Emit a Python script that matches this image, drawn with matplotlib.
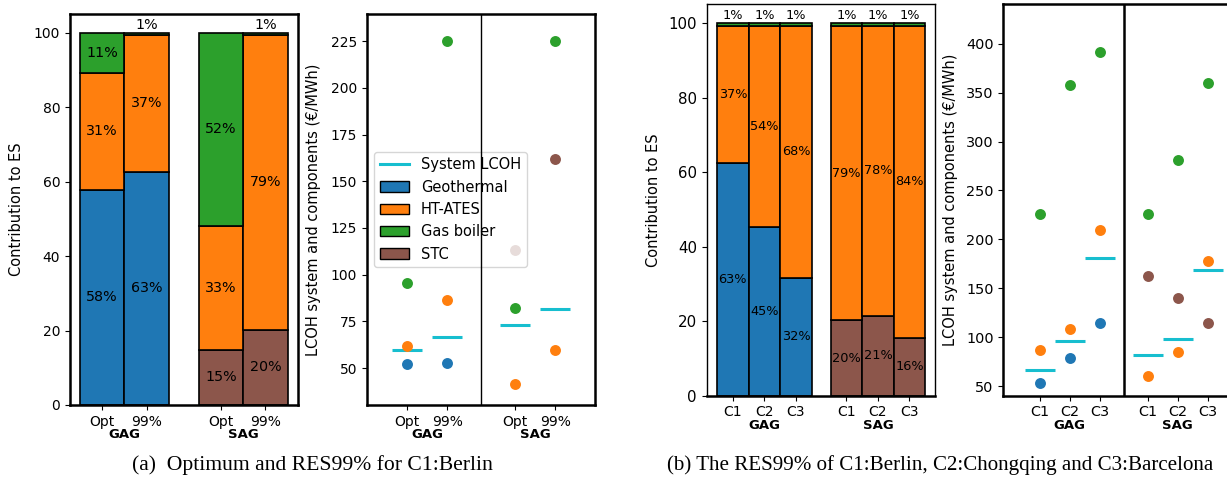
import numpy as np
import matplotlib
matplotlib.use("Agg")
import matplotlib.pyplot as plt
from matplotlib.lines import Line2D
from matplotlib.patches import Patch

nan = np.nan

# technology colours
c_geo = "#1f77b4"
c_ates = "#ff7f0e"
c_gas = "#2ca02c"
c_stc = "#8c564b"
c_sys = "#17becf"

# (a) Berlin, optimum vs RES99% -- share of energy supply (%)
a_ticks = ["Opt", "99%", "Opt", "99%"]
a_geo = [57.8, 62.6, 0, 0]
a_stc = [0, 0, 14.8, 20.2]
a_ates = [31.4, 36.8, 33.3, 79.2]
a_gas = [10.8, 0.6, 51.9, 0.6]

# (a) LCOH of system and components (EUR/MWh)
a_lcoh_sys = [59.5, 66.5, 73.0, 81.5]
a_lcoh_geo = [52.0, 52.9, nan, nan]
a_lcoh_ates = [61.8, 86.3, 41.3, 59.8]
a_lcoh_gas = [95.4, 225.0, 82.2, 225.3]
a_lcoh_stc = [nan, nan, 113.2, 161.8]

# (b) RES99% for the three cities
b_ticks = ["C1", "C2", "C3", "C1", "C2", "C3"]
b_geo = [62.6, 45.2, 31.7, 0, 0, 0]
b_stc = [0, 0, 0, 20.2, 21.4, 15.6]
b_ates = [36.8, 54.2, 67.7, 79.2, 78.0, 83.8]
b_gas = [0.6, 0.6, 0.6, 0.6, 0.6, 0.6]

b_lcoh_sys = [66.4, 96.3, 180.6, 81.7, 97.7, 168.9]
b_lcoh_geo = [52.8, 78.3, 114.1, nan, nan, nan]
b_lcoh_ates = [86.5, 108.0, 209.5, 60.0, 84.4, 177.8]
b_lcoh_gas = [225.6, 358.1, 391.2, 225.6, 281.1, 359.5]
b_lcoh_stc = [nan, nan, nan, 162.2, 140.3, 114.4]

groups = ["GAG", "SAG"]

pos_a = np.array([0, 1, 2.67, 3.67])
pos_b = np.array([0, 1, 2, 3.6, 4.6, 5.6])

W, H = 1227, 478
fig = plt.figure(figsize=(W / 100, H / 100), dpi=100)


def axes_px(x0, y0, x1, y1):
    return fig.add_axes([x0 / W, 1 - y1 / H, (x1 - x0) / W, (y1 - y0) / H])


def stacked(ax, pos, layers, fs):
    bottom = np.zeros(len(pos))
    for vals, col in layers:
        vals = np.array(vals, dtype=float)
        keep = vals > 0
        ax.bar(pos[keep], vals[keep], width=1.0, bottom=bottom[keep], color=col,
               edgecolor="black", linewidth=1.2)
        for x, b, v in zip(pos, bottom, vals):
            if v <= 0:
                continue
            if v < 3:
                ax.text(x, b + v + 0.3, f"{v:.0f}%", ha="center", va="bottom", fontsize=fs)
            else:
                ax.text(x, b + v / 2, f"{v:.0f}%", ha="center", va="center", fontsize=fs)
        bottom += vals


def lcoh(ax, pos, sys, series, ms):
    ax.plot(pos, sys, ls="none", marker="_", ms=ms, mew=2.2, color=c_sys, zorder=3)
    for vals, col in series:
        ax.scatter(pos, vals, s=62, color=col, zorder=4, linewidths=0)


def group_labels(ax, centers, fs=9.5):
    for c, n in zip(centers, groups):
        ax.annotate(n, xy=(c, 0), xycoords=("data", "axes fraction"), xytext=(0, -30),
                    textcoords="offset pixels", ha="center", va="center",
                    fontsize=fs, fontweight="bold")


def spines(ax, lw):
    for s in ax.spines.values():
        s.set_linewidth(lw)


# ---- (a) left: contribution bars
ax1 = axes_px(70, 14, 298, 405)
stacked(ax1, pos_a, [(a_geo, c_geo), (a_stc, c_stc), (a_ates, c_ates), (a_gas, c_gas)], 10.3)
ax1.set_xlim(-0.72, 4.40)
ax1.set_ylim(0, 105)
ax1.set_yticks([0, 20, 40, 60, 80, 100])
ax1.set_xticks(pos_a)
ax1.set_xticklabels(a_ticks)
ax1.tick_params(labelsize=10)
ax1.set_ylabel("Contribution to ES", fontsize=10.5)
ax1.yaxis.set_label_coords(-0.2, 0.5)
group_labels(ax1, [0.5, 3.17])
spines(ax1, 1.8)

# ---- (a) right: LCOH
ax2 = axes_px(367, 14, 595, 405)
lcoh(ax2, pos_a, a_lcoh_sys, [(a_lcoh_geo, c_geo), (a_lcoh_ates, c_ates),
                              (a_lcoh_gas, c_gas), (a_lcoh_stc, c_stc)], 21.5)
ax2.axvline(1.835, color="black", lw=1, zorder=6)
ax2.set_xlim(-0.98, 4.65)
ax2.set_ylim(30.2, 239.6)
ax2.set_yticks([50, 75, 100, 125, 150, 175, 200, 225])
ax2.set_xticks(pos_a)
ax2.set_xticklabels(a_ticks)
ax2.tick_params(labelsize=10)
ax2.set_ylabel("LCOH system and components (€/MWh)", fontsize=10.5)
ax2.yaxis.set_label_coords(-0.2, 0.5)
group_labels(ax2, [0.5, 3.17])
spines(ax2, 1.8)

handles = [Line2D([], [], color=c_sys, lw=2.2, label="System LCOH"),
           Patch(facecolor=c_geo, edgecolor="black", label="Geothermal"),
           Patch(facecolor=c_ates, edgecolor="black", label="HT-ATES"),
           Patch(facecolor=c_gas, edgecolor="black", label="Gas boiler"),
           Patch(facecolor=c_stc, edgecolor="black", label="STC")]
ax2.legend(handles=handles, loc="center left", fontsize=10.5)

# ---- (b) left: contribution bars
ax3 = axes_px(706.7, 4, 935, 395.7)
stacked(ax3, pos_b, [(b_geo, c_geo), (b_stc, c_stc), (b_ates, c_ates), (b_gas, c_gas)], 9.3)
ax3.set_xlim(-0.83, 6.41)
ax3.set_ylim(0, 105.2)
ax3.set_yticks([0, 20, 40, 60, 80, 100])
ax3.set_xticks(pos_b)
ax3.set_xticklabels(b_ticks)
ax3.tick_params(axis="y", labelsize=10.8)
ax3.tick_params(axis="x", labelsize=10)
ax3.set_ylabel("Contribution to ES", fontsize=10.5)
ax3.yaxis.set_label_coords(-0.2, 0.5)
group_labels(ax3, [1, 4.6])
spines(ax3, 1.0)
ax3.spines["bottom"].set_linewidth(1.8)

# ---- (b) right: LCOH
ax4 = axes_px(1003.3, 4, 1244, 395.7)
lcoh(ax4, pos_b, b_lcoh_sys, [(b_lcoh_geo, c_geo), (b_lcoh_ates, c_ates),
                              (b_lcoh_gas, c_gas), (b_lcoh_stc, c_stc)], 21.6)
ax4.axvline(2.8, color="black", lw=1.8, zorder=6)
ax4.set_xlim(-1.21, 6.81)
ax4.set_ylim(40.1, 440.6)
ax4.set_yticks([50, 100, 150, 200, 250, 300, 350, 400])
ax4.set_xticks(pos_b)
ax4.set_xticklabels(b_ticks)
ax4.tick_params(labelsize=10.4)
ax4.set_ylabel("LCOH system and components (€/MWh)", fontsize=10.5)
ax4.yaxis.set_label_coords(-0.187, 0.5)
group_labels(ax4, [1, 4.6])
spines(ax4, 1.8)

# subfigure captions
fig.text(312 / W, 1 - 465 / H, "(a)  Optimum and RES99% for C1:Berlin",
         ha="center", va="center", family="Liberation Serif", fontsize=15.6)
fig.text(940 / W, 1 - 465 / H, "(b) The RES99% of C1:Berlin, C2:Chongqing and C3:Barcelona",
         ha="center", va="center", family="Liberation Serif", fontsize=15.1)

fig.savefig("out.png", dpi=100)
